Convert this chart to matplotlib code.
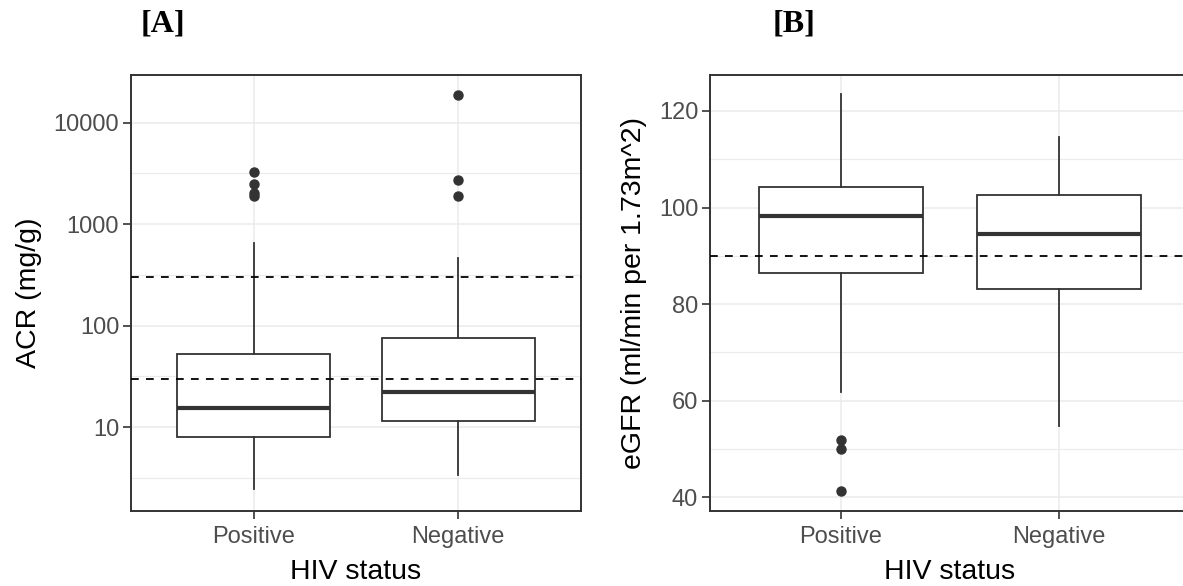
import numpy as np
import matplotlib.pyplot as plt

# Box statistics
groups = ['Positive', 'Negative']

acr_whislo = [2.47, 3.41]
acr_q1 = [7.96, 11.5]
acr_med = [15.4, 22.1]
acr_q3 = [52.6, 75.0]
acr_whishi = [650, 469]
acr_fliers = [[1900, 2045, 2480, 3300], [1900, 2720, 18740]]
acr_cutoffs = [30, 300]
acr_ticks = [10, 100, 1000, 10000]

egfr_whislo = [61.9, 54.8]
egfr_q1 = [86.4, 83.1]
egfr_med = [98.2, 94.5]
egfr_q3 = [104.2, 102.5]
egfr_whishi = [123.5, 114.7]
egfr_fliers = [[41.2, 50.0, 51.9], []]
egfr_cutoffs = [90]
egfr_ticks = [40, 60, 80, 100, 120]

W, H = 1183, 586
dark = '#333333'
grid = '#EBEBEB'
plt.rcParams['font.family'] = ['Liberation Sans', 'DejaVu Sans']

fig = plt.figure(figsize=(W / 100, H / 100), dpi=100)


def px_axes(left, top, right, bottom):
    return fig.add_axes([left / W, 1 - bottom / H, (right - left) / W, (bottom - top) / H])


def make_stats(lo, q1, med, q3, hi, fl):
    return [dict(whislo=lo[i], q1=q1[i], med=med[i], q3=q3[i], whishi=hi[i],
                 fliers=fl[i], label=groups[i]) for i in range(len(groups))]


def draw_panel(ax, stats, cutoffs, majors, minors):
    for y in majors:
        ax.axhline(y, color=grid, lw=1.1, zorder=0)
    for y in minors:
        ax.axhline(y, color=grid, lw=0.8, zorder=0)
    for x in range(1, len(groups) + 1):
        ax.axvline(x, color=grid, lw=1.1, zorder=0)
    ax.bxp(stats, positions=[1, 2], widths=0.75, showcaps=False, patch_artist=True,
           boxprops=dict(facecolor='white', edgecolor=dark, linewidth=1.3),
           whiskerprops=dict(color=dark, linewidth=1.3),
           medianprops=dict(color=dark, linewidth=3.0),
           flierprops=dict(marker='o', markerfacecolor=dark, markeredgecolor=dark,
                           markersize=6.5),
           zorder=2)
    for c in cutoffs:
        ax.axhline(c, color='black', lw=1.3, ls=(0, (4.3, 4)), zorder=3)
    ax.set_xlim(0.4, 2.6)
    ax.set_xticks([1, 2])
    ax.set_xticklabels(groups)
    ax.set_yticks(majors)
    ax.set_yticks([], minor=True)
    for s in ax.spines.values():
        s.set_color(dark)
        s.set_linewidth(1.4)
    ax.tick_params(axis='both', which='major', length=5.5, width=1.2, color=dark,
                   labelcolor='#4D4D4D', labelsize=17, pad=3)
    ax.tick_params(axis='x', pad=5)
    ax.set_xlabel('HIV status', fontsize=20.5, labelpad=8)


# Panel A
axA = px_axes(131, 74.7, 581, 511.3)
axA.set_yscale('log')
draw_panel(axA, make_stats(acr_whislo, acr_q1, acr_med, acr_q3, acr_whishi, acr_fliers),
           acr_cutoffs, acr_ticks, [10 ** (k + 0.5) for k in range(0, 4)])
axA.set_ylim(10 ** 0.172, 10 ** 4.473)
axA.set_yticklabels([str(t) for t in acr_ticks])
axA.yaxis.set_minor_locator(plt.NullLocator())
fig.text(29 / W, 1 - 293 / H, 'ACR (mg/g)', rotation=90, ha='center', va='center',
         fontsize=20.5)

# Panel B (right side runs past the picture edge)
axB = px_axes(710, 74.7, 1190, 511.3)
draw_panel(axB, make_stats(egfr_whislo, egfr_q1, egfr_med, egfr_q3, egfr_whishi, egfr_fliers),
           egfr_cutoffs, egfr_ticks, [50, 70, 90, 110])
axB.set_ylim(37.1, 127.5)
fig.text(634 / W, 1 - 293 / H, 'eGFR (ml/min per 1.73m^2)', rotation=90, ha='center',
         va='center', fontsize=20.5)

# Panel tags
fig.text(141 / W, 1 - 31 / H, '[A]', family='Liberation Serif', weight='bold',
         fontsize=23, va='baseline')
fig.text(773 / W, 1 - 31 / H, '[B]', family='Liberation Serif', weight='bold',
         fontsize=23, va='baseline')

fig.savefig('out.png', dpi=100)
